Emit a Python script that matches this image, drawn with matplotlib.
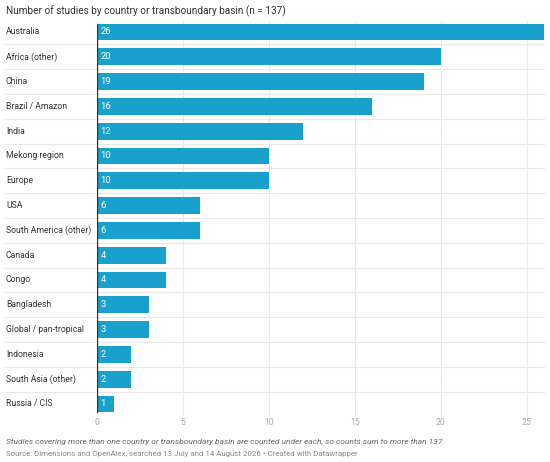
import matplotlib
matplotlib.use("Agg")
import matplotlib.pyplot as plt

countries = ["Australia", "Africa (other)", "China", "Brazil / Amazon", "India",
             "Mekong region", "Europe", "USA", "South America (other)", "Canada",
             "Congo", "Bangladesh", "Global / pan-tropical", "Indonesia",
             "South Asia (other)", "Russia / CIS"]
counts = [26, 20, 19, 16, 12, 10, 10, 6, 6, 4, 4, 3, 3, 2, 2, 1]
xticks = [0, 5, 10, 15, 20, 25]

title = "Number of studies by country or transboundary basin (n = 137)"
note = ("Studies covering more than one country or transboundary basin are "
        "counted under each, so counts sum to more than 137")
source = ("Source: Dimensions and OpenAlex, searched 13 July and 14 August 2026 "
          "\u2022 Created with Datawrapper")

plt.rcParams["font.family"] = ["Roboto", "DejaVu Sans"]

fig = plt.figure(figsize=(5.5, 4.62), dpi=100)
W, H = 550, 462
ax = fig.add_axes([97 / W, 1 - 416.4 / H, 447 / W, (416.4 - 19.6) / H])

ys = list(range(len(countries)))
ax.barh(ys, counts, height=0.68, color="#18a1cd", zorder=3)
ax.set_xlim(0, 26)
ax.set_ylim(len(countries) - 0.5, -0.5)

# grid lines
for t in xticks[1:]:
    ax.axvline(t, color="#e8e8e8", lw=0.8, zorder=1)
for i in range(len(countries) - 1):
    ax.plot([-92 / 447, 1], [i + 0.5, i + 0.5], transform=ax.get_yaxis_transform(),
            color="#e8e8e8", lw=0.8, clip_on=False, zorder=1)
ax.plot([0, 0], [-0.34, len(countries) - 0.66], color="#333333", lw=1, zorder=4)

for y, c, v in zip(ys, countries, counts):
    ax.text(-91 / 447, y, c, transform=ax.get_yaxis_transform(),
            ha="left", va="center", fontsize=6.2, color="#333333")
    ax.text(0.2, y, str(v), ha="left", va="center", fontsize=6.8, color="white", zorder=5)

for s in ax.spines.values():
    s.set_visible(False)
ax.set_yticks([])
ax.set_xticks(xticks)
ax.tick_params(axis="x", length=0, labelsize=6.2, labelcolor="#aaaaaa", pad=1.5)

fig.text(6 / W, 1 - 11 / H, title, ha="left", va="center", fontsize=7.2, color="#333333")
fig.text(6 / W, 1 - 442 / H, note, ha="left", va="center", fontsize=6.05,
         color="#666666", style="italic")
fig.text(6 / W, 1 - 454 / H, source, ha="left", va="center", fontsize=5.7, color="#888888")

fig.savefig("out.png", dpi=100)
